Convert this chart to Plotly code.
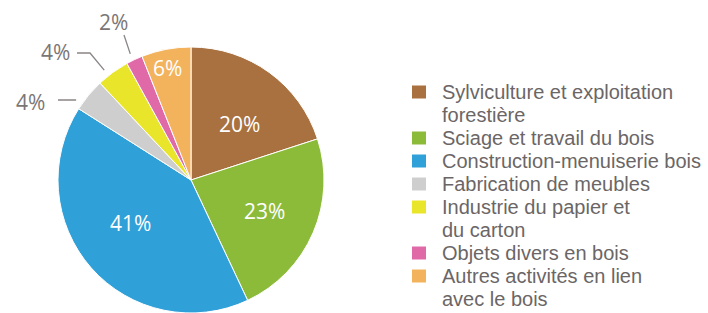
import math
import plotly.graph_objects as go

# ---- data ----
categories = [
    "Sylviculture et exploitation<br>forestière",
    "Sciage et travail du bois",
    "Construction-menuiserie bois",
    "Fabrication de meubles",
    "Industrie du papier et<br>du carton",
    "Objets divers en bois",
    "Autres activités en lien<br>avec le bois",
]
shares = [20, 23, 41, 4, 4, 2, 6]
share_labels = ["20%", "23%", "41%", "4%", "4%", "2%", "6%"]

# ---- style ----
colors = ["#A8713F", "#8CBB3A", "#30A0D8", "#CECECE", "#E9E52B", "#E06AA8", "#F3B25C"]
W, H = 708, 313
CX, CY, R = 191, 180, 133
LABEL_GREY = "#7b7676"
LEGEND_GREY = "#6b6666"

def px(x):
    return x / W

def py(y):
    return 1 - y / H

fig = go.Figure(
    go.Pie(
        values=shares,
        labels=[c.replace("<br>", " ") for c in categories],
        marker=dict(colors=colors, line=dict(color="white", width=1)),
        sort=False,
        direction="clockwise",
        rotation=0,
        textinfo="none",
        hoverinfo="label+percent",
        showlegend=False,
        domain=dict(x=[px(CX - R), px(CX + R)], y=[py(CY + R), py(CY - R)]),
    )
)

# slice angles (clockwise from 12 o'clock), derived from the data
total = sum(shares)
starts, widths = [], []
acc = 0
for v in shares:
    starts.append(acc / total * 360)
    widths.append(v / total * 360)
    acc += v

def polar(angle_deg, r):
    a = math.radians(angle_deg)
    return CX + r * math.sin(a), CY - r * math.cos(a)

annotations = []
shapes = []

# inside labels: (angle fraction within slice, radius fraction)
inside = {0: (0.565, 0.56), 1: (0.49, 0.60), 2: (0.54, 0.56), 6: (0.44, 0.86)}
for i, (fa, fr) in inside.items():
    x, y = polar(starts[i] + fa * widths[i], fr * R)
    annotations.append(dict(
        x=px(x), y=py(y), xref="paper", yref="paper", text=share_labels[i],
        showarrow=False, xanchor="center", yanchor="middle",
        font=dict(family="Open Sans", size=21, color="white"),
    ))

# outside labels with leader lines
outside = {
    3: (0.17, 30, 102, [(58, 100)]),
    4: (0.34, 55, 52, [(90, 53), (77, 53)]),
    5: (0.43, 114, 22, [(124, 35)]),
}
for i, (fa, tx, ty, path) in outside.items():
    ex, ey = polar(starts[i] + fa * widths[i], R + 7)
    pts = [(ex, ey)] + path
    d = "M {} {}".format(px(pts[0][0]), py(pts[0][1]))
    for (x, y) in pts[1:]:
        d += " L {} {}".format(px(x), py(y))
    shapes.append(dict(type="path", path=d, xref="paper", yref="paper",
                       line=dict(color="#8a8585", width=1.3)))
    annotations.append(dict(
        x=px(tx), y=py(ty), xref="paper", yref="paper", text=share_labels[i],
        showarrow=False, xanchor="center", yanchor="middle",
        font=dict(family="Open Sans", size=21, color=LABEL_GREY),
    ))

# custom legend
line_y = 92
step = 23
for i, cat in enumerate(categories):
    lines = cat.split("<br>")
    shapes.append(dict(type="rect", xref="paper", yref="paper",
                       x0=px(412), x1=px(426), y0=py(line_y + 6.5), y1=py(line_y - 6.5),
                       fillcolor=colors[i], line=dict(width=0)))
    for ln in lines:
        annotations.append(dict(
            x=px(440), y=py(line_y), xref="paper", yref="paper", text=ln,
            showarrow=False, xanchor="left", yanchor="middle",
            font=dict(family="Liberation Sans", size=20, color=LEGEND_GREY),
        ))
        line_y += step

fig.update_layout(
    width=W, height=H,
    margin=dict(l=0, r=0, t=0, b=0),
    paper_bgcolor="white",
    plot_bgcolor="white",
    annotations=annotations,
    shapes=shapes,
)

fig.write_html(
    "out.html",
    config={"displayModeBar": False},
    post_script="document.body.style.margin='0';document.body.style.overflow='hidden';",
)
